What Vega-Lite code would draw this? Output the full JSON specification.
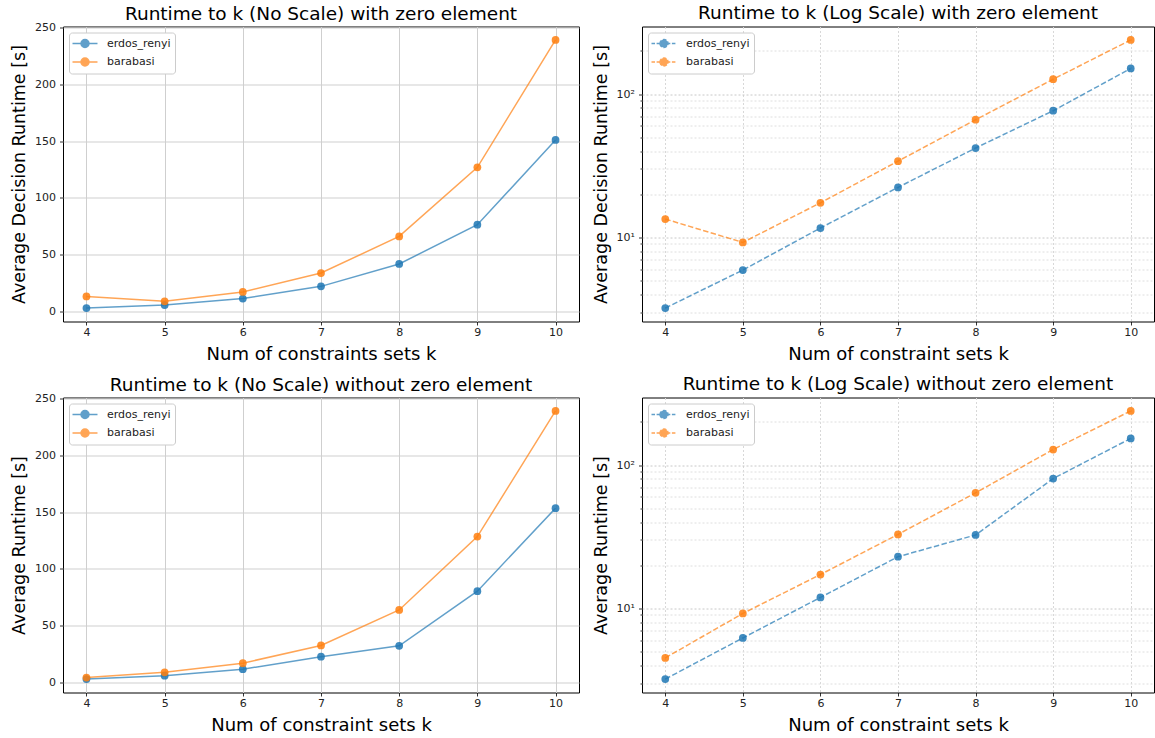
{
  "$schema": "https://vega.github.io/schema/vega-lite/v6.json",
  "padding": {"left": 10, "top": 3.5, "right": 2, "bottom": 2},
  "background": "white",
  "config": {
    "font": "DejaVu Sans",
    "view": {"stroke": "#000", "strokeWidth": 1},
    "title": {"fontSize": 18.5, "fontWeight": "normal", "color": "#000", "offset": -1.75, "anchor": "middle"},
    "axis": {
      "domain": false,
      "tickColor": "#000",
      "tickSize": 3.5,
      "tickWidth": 0.8,
      "labelFontSize": 11,
      "labelColor": "#222",
      "labelPadding": 1.5,
      "labelFlush": false,
      "labelOverlap": false,
      "titleFontWeight": "normal",
      "titleColor": "#000",
      "grid": true,
      "gridColor": "#cfcfcf",
      "gridWidth": 1
    },
    "axisX": {"titlePadding": 8, "titleFontSize": 18},
    "axisY": {"titlePadding": 6, "titleFontSize": 17.5, "labelPadding": 4},
    "legend": {
      "orient": "top-left",
      "offset": 6,
      "title": null,
      "symbolType": "M-2,0L2,0M-0.64,0A0.64,0.64 0 1 1 0.64,0A0.64,0.64 0 1 1 -0.64,0Z",
      "symbolSize": 156,
      "symbolStrokeWidth": 1.5,
      "symbolOffset": 5,
      "labelOffset": 15,
      "labelFontSize": 11,
      "labelColor": "#222",
      "padding": 4,
      "rowPadding": 4.5,
      "fillColor": "white",
      "strokeColor": "#cccccc",
      "cornerRadius": 3
    }
  },
  "datasets": {
    "runs": [
      {"panel": "with", "series": "erdos_renyi", "k": 4, "value": 3.2},
      {"panel": "with", "series": "erdos_renyi", "k": 5, "value": 5.9},
      {"panel": "with", "series": "erdos_renyi", "k": 6, "value": 11.6},
      {"panel": "with", "series": "erdos_renyi", "k": 7, "value": 22.3},
      {"panel": "with", "series": "erdos_renyi", "k": 8, "value": 42.0},
      {"panel": "with", "series": "erdos_renyi", "k": 9, "value": 76.5},
      {"panel": "with", "series": "erdos_renyi", "k": 10, "value": 151.0},
      {"panel": "with", "series": "barabasi", "k": 4, "value": 13.4},
      {"panel": "with", "series": "barabasi", "k": 5, "value": 9.2},
      {"panel": "with", "series": "barabasi", "k": 6, "value": 17.4},
      {"panel": "with", "series": "barabasi", "k": 7, "value": 34.0},
      {"panel": "with", "series": "barabasi", "k": 8, "value": 66.2},
      {"panel": "with", "series": "barabasi", "k": 9, "value": 127.0},
      {"panel": "with", "series": "barabasi", "k": 10, "value": 239.0},
      {"panel": "without", "series": "erdos_renyi", "k": 4, "value": 3.2},
      {"panel": "without", "series": "erdos_renyi", "k": 5, "value": 6.2},
      {"panel": "without", "series": "erdos_renyi", "k": 6, "value": 11.9},
      {"panel": "without", "series": "erdos_renyi", "k": 7, "value": 22.9},
      {"panel": "without", "series": "erdos_renyi", "k": 8, "value": 32.5},
      {"panel": "without", "series": "erdos_renyi", "k": 9, "value": 80.5},
      {"panel": "without", "series": "erdos_renyi", "k": 10, "value": 153.5},
      {"panel": "without", "series": "barabasi", "k": 4, "value": 4.5},
      {"panel": "without", "series": "barabasi", "k": 5, "value": 9.2},
      {"panel": "without", "series": "barabasi", "k": 6, "value": 17.2},
      {"panel": "without", "series": "barabasi", "k": 7, "value": 32.8},
      {"panel": "without", "series": "barabasi", "k": 8, "value": 64.0},
      {"panel": "without", "series": "barabasi", "k": 9, "value": 128.5},
      {"panel": "without", "series": "barabasi", "k": 10, "value": 239.0}
    ]
  },
  "data": {"name": "runs"},
  "columns": 2,
  "spacing": {"row": 10, "column": 11},
  "bounds": "full",
  "align": "each",
  "resolve": {
    "scale": {"color": "shared", "x": "independent", "y": "independent"},
    "legend": {"color": "independent"}
  },
  "concat": [
    {
      "width": 516,
      "height": 295,
      "title": {"text": "Runtime to k (No Scale) with zero element"},
      "transform": [{"filter": "datum.panel == 'with'"}],
      "mark": {"type": "line", "strokeWidth": 1.5, "opacity": 0.7, "point": {"filled": true, "size": 60, "opacity": 0.85}},
      "encoding": {
        "x": {"field": "k", "type": "quantitative", "scale": {"domain": [3.7, 10.3], "nice": false, "zero": false},
              "axis": {"values": [4, 5, 6, 7, 8, 9, 10], "title": "Num of constraints sets k"}},
        "y": {"field": "value", "type": "quantitative", "scale": {"domain": [-8.6, 250.8], "nice": false, "zero": false},
              "axis": {"values": [0, 50, 100, 150, 200, 250], "title": "Average Decision Runtime [s]"}},
        "color": {"field": "series", "type": "nominal", "sort": ["erdos_renyi", "barabasi"],
                  "scale": {"domain": ["erdos_renyi", "barabasi"], "range": ["#1f77b4", "#ff7f0e"]},
                  "legend": {"encode": {"symbols": {"update": {"fill": {"scale": "color", "field": "value"}, "stroke": {"scale": "color", "field": "value"}, "opacity": {"value": 0.8}}}}}}
      }
    },
    {
      "width": 512,
      "height": 295,
      "title": {"text": "Runtime to k (Log Scale) with zero element", "dy": -5.5},
      "transform": [{"filter": "datum.panel == 'with'"}],
      "mark": {"type": "line", "strokeWidth": 1.5, "opacity": 0.7, "strokeDash": [5.5, 2.4], "point": {"filled": true, "size": 60, "opacity": 0.85}},
      "encoding": {
        "x": {"field": "k", "type": "quantitative", "scale": {"domain": [3.7, 10.3], "nice": false, "zero": false},
              "axis": {"values": [4, 5, 6, 7, 8, 9, 10], "title": "Num of constraint sets k", "gridDash": [2, 2], "gridColor": "#d8d8d8"}},
        "y": {"field": "value", "type": "quantitative", "scale": {"type": "log", "domain": [2.579, 296.6], "nice": false},
              "axis": {"values": [3, 4, 5, 6, 7, 8, 9, 10, 20, 30, 40, 50, 60, 70, 80, 90, 100, 200],
                       "labelExpr": "datum.value == 10 ? '10¹' : datum.value == 100 ? '10²' : ''",
                       "tickSize": {"condition": {"test": "datum.value == 10 || datum.value == 100", "value": 3.5}, "value": 2},
                       "gridDash": [2, 2],
                       "gridColor": {"condition": {"test": "datum.value == 10 || datum.value == 100", "value": "#c8c8c8"}, "value": "#dedede"},
                       "title": "Average Decision Runtime [s]"}},
        "color": {"field": "series", "type": "nominal", "sort": ["erdos_renyi", "barabasi"],
                  "scale": {"domain": ["erdos_renyi", "barabasi"], "range": ["#1f77b4", "#ff7f0e"]},
                  "legend": {"symbolDash": [3.5, 1.6], "encode": {"symbols": {"update": {"fill": {"scale": "color", "field": "value"}, "stroke": {"scale": "color", "field": "value"}, "opacity": {"value": 0.8}}}}}}
      }
    },
    {
      "width": 516,
      "height": 295,
      "title": {"text": "Runtime to k (No Scale) without zero element"},
      "transform": [{"filter": "datum.panel == 'without'"}],
      "mark": {"type": "line", "strokeWidth": 1.5, "opacity": 0.7, "point": {"filled": true, "size": 60, "opacity": 0.85}},
      "encoding": {
        "x": {"field": "k", "type": "quantitative", "scale": {"domain": [3.7, 10.3], "nice": false, "zero": false},
              "axis": {"values": [4, 5, 6, 7, 8, 9, 10], "title": "Num of constraint sets k"}},
        "y": {"field": "value", "type": "quantitative", "scale": {"domain": [-8.6, 250.8], "nice": false, "zero": false},
              "axis": {"values": [0, 50, 100, 150, 200, 250], "title": "Average Runtime [s]"}},
        "color": {"field": "series", "type": "nominal", "sort": ["erdos_renyi", "barabasi"],
                  "scale": {"domain": ["erdos_renyi", "barabasi"], "range": ["#1f77b4", "#ff7f0e"]},
                  "legend": {"encode": {"symbols": {"update": {"fill": {"scale": "color", "field": "value"}, "stroke": {"scale": "color", "field": "value"}, "opacity": {"value": 0.8}}}}}}
      }
    },
    {
      "width": 512,
      "height": 295,
      "title": {"text": "Runtime to k (Log Scale) without zero element", "dy": -5.5},
      "transform": [{"filter": "datum.panel == 'without'"}],
      "mark": {"type": "line", "strokeWidth": 1.5, "opacity": 0.7, "strokeDash": [5.5, 2.4], "point": {"filled": true, "size": 60, "opacity": 0.85}},
      "encoding": {
        "x": {"field": "k", "type": "quantitative", "scale": {"domain": [3.7, 10.3], "nice": false, "zero": false},
              "axis": {"values": [4, 5, 6, 7, 8, 9, 10], "title": "Num of constraint sets k", "gridDash": [2, 2], "gridColor": "#d8d8d8"}},
        "y": {"field": "value", "type": "quantitative", "scale": {"type": "log", "domain": [2.579, 296.6], "nice": false},
              "axis": {"values": [3, 4, 5, 6, 7, 8, 9, 10, 20, 30, 40, 50, 60, 70, 80, 90, 100, 200],
                       "labelExpr": "datum.value == 10 ? '10¹' : datum.value == 100 ? '10²' : ''",
                       "tickSize": {"condition": {"test": "datum.value == 10 || datum.value == 100", "value": 3.5}, "value": 2},
                       "gridDash": [2, 2],
                       "gridColor": {"condition": {"test": "datum.value == 10 || datum.value == 100", "value": "#c8c8c8"}, "value": "#dedede"},
                       "title": "Average Runtime [s]"}},
        "color": {"field": "series", "type": "nominal", "sort": ["erdos_renyi", "barabasi"],
                  "scale": {"domain": ["erdos_renyi", "barabasi"], "range": ["#1f77b4", "#ff7f0e"]},
                  "legend": {"symbolDash": [3.5, 1.6], "encode": {"symbols": {"update": {"fill": {"scale": "color", "field": "value"}, "stroke": {"scale": "color", "field": "value"}, "opacity": {"value": 0.8}}}}}}
      }
    }
  ]
}
